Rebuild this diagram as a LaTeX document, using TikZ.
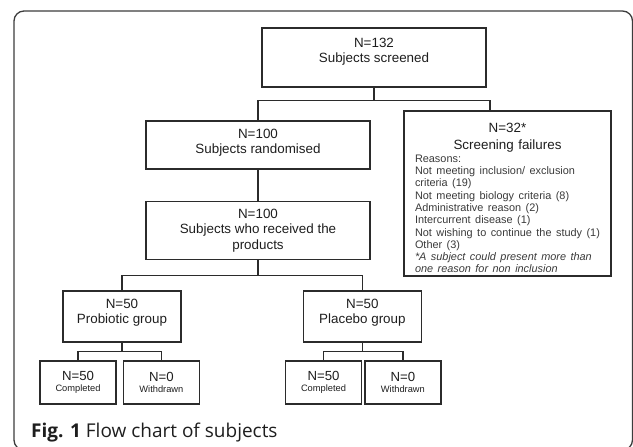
\documentclass[tikz,border=0pt]{standalone}
\usepackage{fontspec}
\setmainfont{Liberation Sans}
\newfontfamily\capfont{Open Sans}
\usepackage{xcolor}
\definecolor{boxline}{HTML}{2B2B2B}
\definecolor{boxtext}{HTML}{1E1E1E}
\definecolor{notetext}{HTML}{3A3A3A}
\definecolor{framegray}{HTML}{3C3C3C}
\usepackage{tikz}
\usetikzlibrary{positioning}
\setlength{\parindent}{0pt}
\setlength{\parskip}{0pt}
\tikzset{
  fcbox/.style ={rectangle, draw=boxline, line width=1.4pt, text=boxtext, align=center,
                 inner sep=3pt, font=\fontsize{13.4}{15.5}\selectfont},
  fcsmall/.style={rectangle, draw=boxline, line width=1.4pt, text=boxtext, align=center,
                 inner sep=2pt, minimum width=76pt, minimum height=43pt, font=\fontsize{13.2}{11}\selectfont},
  fcfail/.style={rectangle, draw=boxline, line width=1.4pt, text=boxtext, text width=185pt,
                 inner xsep=11pt, inner ysep=0pt, minimum height=165pt,
                 font=\fontsize{13.4}{17}\selectfont},
  fcline/.style={line width=1.2pt, color=boxline},
  fcframe/.style={line width=1.3pt, color=framegray, rounded corners=10pt},
  fccap/.style={font=\capfont\fontsize{19}{22}\selectfont, text=boxtext, inner sep=0pt},
}
\newcommand{\smalltag}[1]{{\fontsize{9.3}{11}\selectfont #1}}

\begin{document}
\begin{tikzpicture}[x=1pt, y=-1pt]
  \useasboundingbox (0,0) rectangle (633,447);
  \draw[fcframe] (14,11) rectangle (632.5,450);
  % screening and randomisation
  \node[fcbox, minimum width=224pt, minimum height=59pt] (scr) at (374,57.5) {N=132\\Subjects screened\\[-1pt]};
  \node[fcbox, minimum width=224pt, minimum height=48pt] (rnd) at (258,145) {N=100\\Subjects randomised\\[-8pt]};
  \node[fcbox, minimum width=224pt, minimum height=58pt, below=31pt of rnd] (rcv) {N=100\\Subjects who received the\\products};
  \node[fcfail] (fail) at (507.5,193.5) {\par\vspace*{2pt}{\centering N=32*\par Screening failures\par}
    {\raggedright\fontsize{10.9}{12.3}\selectfont\color{notetext}
    Reasons:\newline
    Not meeting inclusion/ exclusion\newline
    criteria (19)\newline
    Not meeting biology criteria (8)\newline
    Administrative reason (2)\newline
    Intercurrent disease (1)\newline
    Not wishing to continue the study (1)\newline
    Other (3)\newline
    \textit{*A subject could present more than}\newline
    \textit{one reason for non inclusion}\par}};
  % groups
  \node[fcbox, minimum width=118pt, minimum height=51pt] (prob) at (122,316.5) {N=50\\Probiotic group\\[-5pt]};
  \node[fcbox, minimum width=118pt, minimum height=51pt, right=121pt of prob] (plac) {N=50\\Placebo group\\[-5pt]};
  \node[fcsmall] (cmp1) at (78,382.5) {N=50\\\smalltag{Completed}};
  \node[fcsmall, right=6pt of cmp1] (wdr1) {N=0\\\smalltag{Withdrawn}};
  \node[fcsmall] (cmp2) at (323.5,382.5) {N=50\\\smalltag{Completed}};
  \node[fcsmall, right=2pt of cmp2] (wdr2) {N=0\\\smalltag{Withdrawn}};
  % connectors
  \draw[fcline] (scr.south) -- ++(0,13) coordinate (s1);
  \draw[fcline] (rnd.north) |- (s1) -| ([xshift=-17.5pt]fail.north);
  \draw[fcline] (rnd.south) -- (rcv.north);
  \draw[fcline] (rcv.south) -- ++(0,15) coordinate (s2);
  \draw[fcline] (prob.north) |- (s2) -| (plac.north);
  \draw[fcline] (prob.south) -- ++(0,9) coordinate (s3);
  \draw[fcline] (cmp1.north) |- (s3) -| (wdr1.north);
  \draw[fcline] (plac.south) -- ++(0,9) coordinate (s4);
  \draw[fcline] (cmp2.north) |- (s4) -| (wdr2.north);
  % caption
  \node[fccap, anchor=base west] (cap) at (31,437) {\textbf{Fig. 1} Flow chart of subjects};
\end{tikzpicture}
\end{document}
